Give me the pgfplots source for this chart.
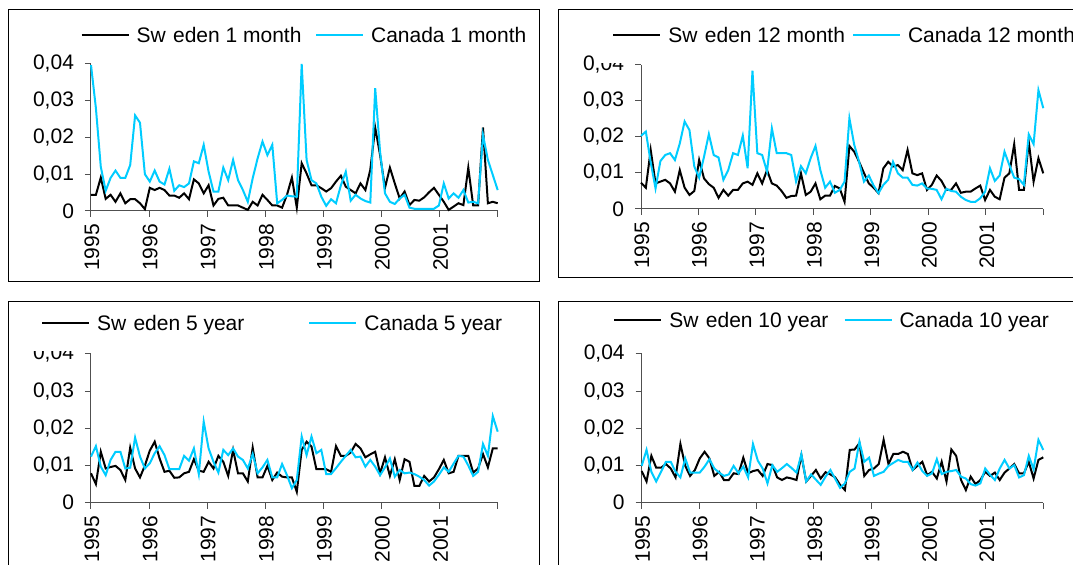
\documentclass[border=0pt]{standalone}
\usepackage{fontspec}
\setmainfont{Liberation Sans}
\usepackage{pgfplots}
\usepackage{pgfplotstable}
\pgfplotsset{compat=1.18}

\definecolor{skyline}{RGB}{0,204,255}
\definecolor{axisgray}{RGB}{80,80,80}

% monthly observations, Jan 1995 - Dec 2001: month index, Sweden, Canada
\pgfplotstableread{
m se ca
0 0.0044 0.0397
1 0.0044 0.0280
2 0.0091 0.0120
3 0.0033 0.0055
4 0.0044 0.0090
5 0.0025 0.0110
6 0.0048 0.0090
7 0.0021 0.0090
8 0.0032 0.0125
9 0.0032 0.0260
10 0.0021 0.0240
11 0.0005 0.0100
12 0.0063 0.0080
13 0.0057 0.0110
14 0.0063 0.0080
15 0.0057 0.0072
16 0.0042 0.0115
17 0.0042 0.0055
18 0.0036 0.0070
19 0.0048 0.0065
20 0.0032 0.0075
21 0.0086 0.0135
22 0.0075 0.0130
23 0.0048 0.0180
24 0.0070 0.0107
25 0.0015 0.0053
26 0.0033 0.0053
27 0.0036 0.0118
28 0.0015 0.0084
29 0.0015 0.0139
30 0.0015 0.0084
31 0.0009 0.0057
32 0.0003 0.0025
33 0.0025 0.0089
34 0.0015 0.0143
35 0.0044 0.0189
36 0.0030 0.0152
37 0.0015 0.0180
38 0.0015 0.0021
39 0.0009 0.0030
40 0.0044 0.0042
41 0.0091 0.0040
42 0.0009 0.0039
43 0.0130 0.0400
44 0.0102 0.0139
45 0.0070 0.0084
46 0.0070 0.0075
47 0.0062 0.0039
48 0.0053 0.0014
49 0.0062 0.0032
50 0.0080 0.0021
51 0.0096 0.0070
52 0.0066 0.0107
53 0.0057 0.0028
54 0.0048 0.0044
55 0.0075 0.0034
56 0.0057 0.0027
57 0.0112 0.0023
58 0.0227 0.0334
59 0.0152 0.0161
60 0.0063 0.0048
61 0.0118 0.0025
62 0.0075 0.0019
63 0.0034 0.0034
64 0.0053 0.0044
65 0.0016 0.0009
66 0.0030 0.0006
67 0.0028 0.0006
68 0.0037 0.0006
69 0.0051 0.0006
70 0.0063 0.0006
71 0.0044 0.0015
72 0.0025 0.0075
73 0.0003 0.0034
74 0.0012 0.0048
75 0.0021 0.0036
76 0.0016 0.0057
77 0.0118 0.0023
78 0.0015 0.0025
79 0.0015 0.0021
80 0.0227 0.0207
81 0.0021 0.0139
82 0.0025 0.0098
83 0.0021 0.0057
}\onemonth

\pgfplotstableread{
m se ca
0 0.0073 0.0203
1 0.0059 0.0215
2 0.0164 0.0130
3 0.0071 0.0057
4 0.0076 0.0133
5 0.0081 0.0150
6 0.0071 0.0155
7 0.0048 0.0136
8 0.0108 0.0182
9 0.0059 0.0243
10 0.0039 0.0219
11 0.0050 0.0118
12 0.0136 0.0087
13 0.0085 0.0145
14 0.0069 0.0208
15 0.0059 0.0150
16 0.0031 0.0143
17 0.0053 0.0081
18 0.0037 0.0108
19 0.0053 0.0155
20 0.0053 0.0150
21 0.0071 0.0204
22 0.0076 0.0113
23 0.0067 0.0384
24 0.0099 0.0155
25 0.0071 0.0150
26 0.0108 0.0104
27 0.0071 0.0224
28 0.0065 0.0155
29 0.0050 0.0155
30 0.0031 0.0155
31 0.0036 0.0150
32 0.0037 0.0076
33 0.0099 0.0119
34 0.0039 0.0099
35 0.0048 0.0141
36 0.0071 0.0175
37 0.0027 0.0108
38 0.0037 0.0059
39 0.0037 0.0076
40 0.0064 0.0045
41 0.0057 0.0053
42 0.0020 0.0076
43 0.0175 0.0252
44 0.0159 0.0178
45 0.0131 0.0131
46 0.0100 0.0076
47 0.0071 0.0093
48 0.0059 0.0065
49 0.0044 0.0044
50 0.0113 0.0067
51 0.0131 0.0081
52 0.0118 0.0131
53 0.0122 0.0099
54 0.0108 0.0087
55 0.0164 0.0087
56 0.0099 0.0067
57 0.0094 0.0065
58 0.0099 0.0071
59 0.0053 0.0057
60 0.0067 0.0056
61 0.0093 0.0053
62 0.0078 0.0027
63 0.0053 0.0056
64 0.0053 0.0050
65 0.0071 0.0048
66 0.0045 0.0034
67 0.0048 0.0025
68 0.0048 0.0020
69 0.0057 0.0020
70 0.0065 0.0030
71 0.0025 0.0048
72 0.0053 0.0113
73 0.0034 0.0078
74 0.0027 0.0093
75 0.0087 0.0159
76 0.0099 0.0122
77 0.0180 0.0087
78 0.0053 0.0083
79 0.0053 0.0067
80 0.0187 0.0207
81 0.0076 0.0180
82 0.0141 0.0330
83 0.0099 0.0280
}\twelvemonth

\pgfplotstableread{
m se ca
0 0.0079 0.0124
1 0.0050 0.0152
2 0.0137 0.0097
3 0.0092 0.0074
4 0.0096 0.0115
5 0.0099 0.0137
6 0.0088 0.0137
7 0.0061 0.0092
8 0.0148 0.0094
9 0.0092 0.0175
10 0.0068 0.0124
11 0.0100 0.0092
12 0.0140 0.0106
13 0.0164 0.0133
14 0.0119 0.0152
15 0.0083 0.0128
16 0.0086 0.0090
17 0.0067 0.0090
18 0.0068 0.0090
19 0.0079 0.0126
20 0.0083 0.0113
21 0.0117 0.0146
22 0.0086 0.0077
23 0.0083 0.0218
24 0.0110 0.0146
25 0.0092 0.0110
26 0.0126 0.0081
27 0.0110 0.0142
28 0.0072 0.0128
29 0.0142 0.0146
30 0.0079 0.0124
31 0.0079 0.0115
32 0.0057 0.0092
33 0.0148 0.0131
34 0.0068 0.0079
35 0.0068 0.0095
36 0.0099 0.0115
37 0.0061 0.0068
38 0.0081 0.0068
39 0.0070 0.0104
40 0.0068 0.0074
41 0.0068 0.0039
42 0.0029 0.0061
43 0.0142 0.0178
44 0.0164 0.0128
45 0.0151 0.0178
46 0.0090 0.0133
47 0.0090 0.0142
48 0.0090 0.0077
49 0.0083 0.0077
50 0.0152 0.0093
51 0.0126 0.0110
52 0.0126 0.0126
53 0.0135 0.0142
54 0.0158 0.0122
55 0.0146 0.0124
56 0.0122 0.0097
57 0.0130 0.0115
58 0.0137 0.0097
59 0.0079 0.0074
60 0.0122 0.0095
61 0.0072 0.0119
62 0.0117 0.0070
63 0.0061 0.0088
64 0.0117 0.0079
65 0.0110 0.0081
66 0.0045 0.0077
67 0.0045 0.0070
68 0.0072 0.0061
69 0.0057 0.0046
70 0.0068 0.0057
71 0.0090 0.0075
72 0.0115 0.0095
73 0.0079 0.0083
74 0.0083 0.0105
75 0.0126 0.0126
76 0.0126 0.0124
77 0.0126 0.0100
78 0.0081 0.0072
79 0.0092 0.0083
80 0.0131 0.0158
81 0.0095 0.0126
82 0.0146 0.0233
83 0.0146 0.0191
}\fiveyear

\pgfplotstableread{
m se ca
0 0.0085 0.0099
1 0.0057 0.0142
2 0.0126 0.0083
3 0.0094 0.0057
4 0.0094 0.0083
5 0.0104 0.0110
6 0.0092 0.0110
7 0.0068 0.0083
8 0.0158 0.0068
9 0.0099 0.0119
10 0.0072 0.0081
11 0.0088 0.0081
12 0.0119 0.0081
13 0.0137 0.0097
14 0.0119 0.0117
15 0.0072 0.0092
16 0.0083 0.0081
17 0.0061 0.0072
18 0.0061 0.0076
19 0.0079 0.0099
20 0.0077 0.0079
21 0.0121 0.0097
22 0.0079 0.0068
23 0.0085 0.0158
24 0.0088 0.0113
25 0.0072 0.0092
26 0.0104 0.0052
27 0.0101 0.0101
28 0.0068 0.0083
29 0.0061 0.0093
30 0.0068 0.0104
31 0.0065 0.0093
32 0.0061 0.0081
33 0.0128 0.0130
34 0.0057 0.0057
35 0.0072 0.0076
36 0.0088 0.0062
37 0.0065 0.0048
38 0.0082 0.0070
39 0.0076 0.0088
40 0.0068 0.0064
41 0.0048 0.0040
42 0.0034 0.0052
43 0.0142 0.0083
44 0.0143 0.0092
45 0.0160 0.0164
46 0.0072 0.0110
47 0.0088 0.0121
48 0.0092 0.0072
49 0.0104 0.0078
50 0.0169 0.0083
51 0.0104 0.0099
52 0.0131 0.0107
53 0.0131 0.0115
54 0.0137 0.0110
55 0.0131 0.0110
56 0.0088 0.0088
57 0.0099 0.0108
58 0.0110 0.0085
59 0.0074 0.0072
60 0.0083 0.0079
61 0.0065 0.0117
62 0.0110 0.0077
63 0.0057 0.0083
64 0.0143 0.0085
65 0.0126 0.0088
66 0.0061 0.0070
67 0.0034 0.0065
68 0.0070 0.0050
69 0.0050 0.0046
70 0.0061 0.0052
71 0.0083 0.0092
72 0.0072 0.0075
73 0.0081 0.0061
74 0.0061 0.0092
75 0.0081 0.0115
76 0.0092 0.0092
77 0.0104 0.0101
78 0.0079 0.0068
79 0.0079 0.0074
80 0.0110 0.0126
81 0.0065 0.0090
82 0.0115 0.0169
83 0.0122 0.0142
}\tenyear

\newcommand{\chartfont}{\fontsize{10.5}{12}\selectfont}

\pgfplotsset{
  ratepanel/.style={
    scale only axis, anchor=south west,
    xmin=0, xmax=83, ymin=0, ymax=0.04,
    scaled y ticks=false,
    axis x line*=bottom, axis y line*=left,
    axis line style={-, draw=axisgray, line width=0.5pt},
    every outer x axis line/.append style={-},
    every outer y axis line/.append style={-},
    xtick={0,11.857,23.714,35.571,47.429,59.286,71.143,83},
    xticklabels={1995,1996,1997,1998,1999,2000,2001,{}},
    ytick={0,0.01,0.02,0.03,0.04},
    yticklabels={0,{0,01},{0,02},{0,03},{0,04}},
    tick align=outside, major tick length=3pt,
    tick style={draw=axisgray, line width=0.5pt},
    ticklabel style={font=\chartfont, text=black},
    xticklabel style={rotate=90, anchor=east, yshift=-0.5pt},
    yticklabel style={xshift=-2pt},
    clip=false,
    legend columns=2,
    legend image code/.code={\draw[##1] (0pt,3.7pt) -- (23.5pt,3.7pt);},
    legend style={draw=none, fill=none, font=\chartfont, inner sep=0pt,
      anchor=west, column sep=3.5pt,
      nodes={inner sep=0pt, anchor=base west}},
  },
  sweden/.style={black, line width=1pt},
  canada/.style={skyline, line width=1pt},
}

\begin{document}
\begin{tikzpicture}
\path[use as bounding box] (0pt,0pt) rectangle (536.5pt,282.5pt);
\clip (0pt,0pt) rectangle (536.5pt,282.5pt);

% 1 month
\begin{axis}[ratepanel, at={(45.5pt,177pt)}, width=203.35pt, height=73.5pt,
  legend style={at={(-0.0207,1.19)}, xshift=-1.2pt,
    /tikz/every even column/.append style={column sep=6.8pt}}]
  \addplot[sweden] table[x=m, y=se] {\onemonth};
  \addlegendentry{Sw\hspace{0.35em}eden 1 month}
  \addplot[canada] table[x=m, y=ca] {\onemonth};
  \addlegendentry{Canada 1 month}
\end{axis}

% 12 month
\begin{axis}[ratepanel, at={(320.5pt,178pt)}, width=201.15pt, height=72pt,
  legend style={at={(-0.0721,1.201)}, fill=white, inner xsep=6.5pt,
    inner ysep=9pt, xshift=-6.5pt,
    /tikz/every even column/.append style={column sep=3.5pt}}]
  \addplot[sweden] table[x=m, y=se] {\twelvemonth};
  \addlegendentry{Sw\hspace{0.35em}eden 12 month}
  \addplot[canada] table[x=m, y=ca] {\twelvemonth};
  \addlegendentry{Canada 12 month}
\end{axis}

% 5 year
\begin{axis}[ratepanel, at={(45.5pt,31.15pt)}, width=203.35pt, height=74.35pt,
  legend style={at={(-0.1239,1.199)}, fill=white, inner xsep=6.5pt,
    inner ysep=9pt, xshift=-6.5pt,
    /tikz/every even column/.append style={column sep=32pt}}]
  \addplot[sweden] table[x=m, y=se] {\fiveyear};
  \addlegendentry{Sw\hspace{0.35em}eden 5 year}
  \addplot[canada] table[x=m, y=ca] {\fiveyear};
  \addlegendentry{Canada 5 year}
\end{axis}

% 10 year
\begin{axis}[ratepanel, at={(320.85pt,31.15pt)}, width=200.8pt, height=74.35pt,
  legend style={at={(-0.0715,1.218)},
    /tikz/every even column/.append style={column sep=7.5pt}}]
  \addplot[sweden] table[x=m, y=se] {\tenyear};
  \addlegendentry{Sw\hspace{0.35em}eden 10 year}
  \addplot[canada] table[x=m, y=ca] {\tenyear};
  \addlegendentry{Canada 10 year}
\end{axis}

% chart frames
\begin{scope}[line width=0.5pt]
  \draw (4pt,141.5pt) rectangle (269.5pt,277.5pt);
  \draw (279pt,143.5pt) rectangle (545pt,277.5pt);
  \draw (4pt,-5pt) rectangle (269.5pt,131.5pt);
  \draw (279pt,-5pt) rectangle (545pt,131.5pt);
\end{scope}
\end{tikzpicture}
\end{document}
